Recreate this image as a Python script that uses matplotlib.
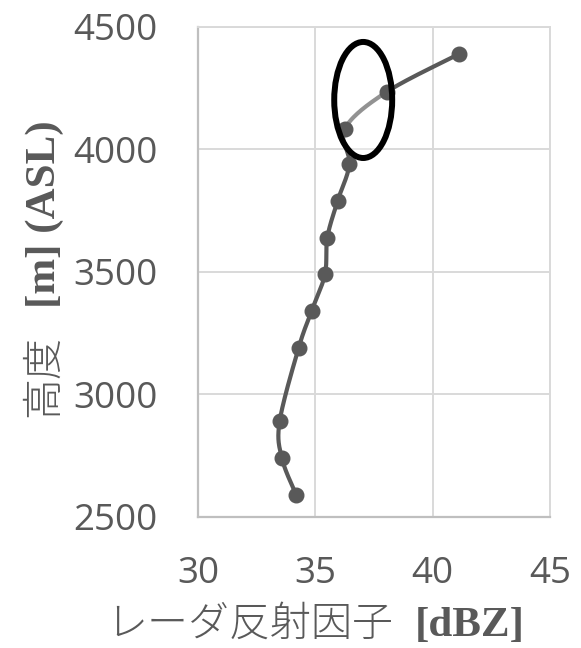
import numpy as np
import matplotlib
matplotlib.use('Agg')
import matplotlib.pyplot as plt
from matplotlib.patches import Ellipse

# ---- data ----
reflectivity_dbz = [34.18, 33.57, 33.48, 34.29, 34.84, 35.41, 35.51, 35.95, 36.45, 36.26, 38.04, 41.13]
altitude_m = [2590, 2740, 2890, 3190, 3340, 3490, 3640, 3790, 3940, 4085, 4235, 4390]
x_ticks = [30, 35, 40, 45]
y_ticks = [2500, 3000, 3500, 4000, 4500]
highlight_center = (37.04, 4202)
highlight_size = (2.47, 474)

GRAY = '#595959'

fig = plt.figure(figsize=(5.81, 6.48), dpi=100)
ax = fig.add_axes([198/581, 1-516.7/648, (550-198)/581, (516.7-27)/648])
ax.set_xlim(x_ticks[0], x_ticks[-1])
ax.set_ylim(y_ticks[0], y_ticks[-1])
ax.set_xticks(x_ticks)
ax.set_yticks(y_ticks)
ax.set_xticklabels([str(t) for t in x_ticks])
ax.set_yticklabels([str(t) for t in y_ticks])

ax.grid(True, color='#d9d9d9', lw=1.4, zorder=0)
ax.set_axisbelow(True)
for s in ['top', 'right']:
    ax.spines[s].set_color('#d9d9d9')
    ax.spines[s].set_linewidth(1.4)
for s in ['left', 'bottom']:
    ax.spines[s].set_color('#bfbfbf')
    ax.spines[s].set_linewidth(1.6)
ax.tick_params(length=0, labelsize=26.5, labelcolor=GRAY)
ax.tick_params(axis='y', pad=29)
ax.tick_params(axis='x', pad=28)
for lab in ax.get_xticklabels() + ax.get_yticklabels():
    lab.set_fontfamily('Open Sans')

# smoothed line (Catmull-Rom in display space, like spreadsheet smoothing)
fig.canvas.draw()
pts = ax.transData.transform(np.column_stack([reflectivity_dbz, altitude_m]))
P = np.vstack([pts[0], pts, pts[-1]])
curve = []
tt = np.linspace(0, 1, 30)
for i in range(1, len(P) - 2):
    p0, p1, p2, p3 = P[i-1], P[i], P[i+1], P[i+2]
    c1 = p1 + (p2 - p0) / 6
    c2 = p2 - (p3 - p1) / 6
    for t in tt:
        b = ((1-t)**3)*p1 + 3*((1-t)**2)*t*c1 + 3*(1-t)*t**2*c2 + t**3*p2
        curve.append(b)
curve = ax.transData.inverted().transform(np.array(curve))
ax.plot(curve[:, 0], curve[:, 1], color=GRAY, lw=3.0, zorder=2, solid_capstyle='round')
ax.plot(reflectivity_dbz, altitude_m, 'o', color=GRAY, ms=10.5, zorder=4)

ell_fill = Ellipse(highlight_center, highlight_size[0], highlight_size[1],
                   facecolor=(1, 1, 1, 0.35), edgecolor='none', zorder=3)
ax.add_patch(ell_fill)
ell = Ellipse(highlight_center, highlight_size[0], highlight_size[1],
              facecolor='none', edgecolor='black', lw=4.3, zorder=5)
ax.add_patch(ell)

# x label: Japanese + bold serif unit
W, H = 581, 648
fig.text(106/W, 1-636/H, 'レーダ反射因子', fontsize=29.5, weight='light',
         family=['Noto Sans CJK JP', 'DejaVu Sans'], color=GRAY,
         ha='left', va='baseline')
fig.text(525/W, 1-636/H, '[dBZ]', fontsize=31, family='Liberation Serif', weight='bold',
         color=GRAY, ha='right', va='baseline')

# y label
fig.text(55/W, 1-417/H, '高度', fontsize=29.5, rotation=90, rotation_mode='anchor',
         weight='light', family=['Noto Sans CJK JP', 'DejaVu Sans'], color=GRAY,
         ha='left', va='baseline')
fig.text(55/W, 1-308/H, '[m] (ASL)', fontsize=31, rotation=90, rotation_mode='anchor',
         family='Liberation Serif', weight='bold', color=GRAY,
         ha='left', va='baseline')

fig.savefig('out.png', dpi=100)
